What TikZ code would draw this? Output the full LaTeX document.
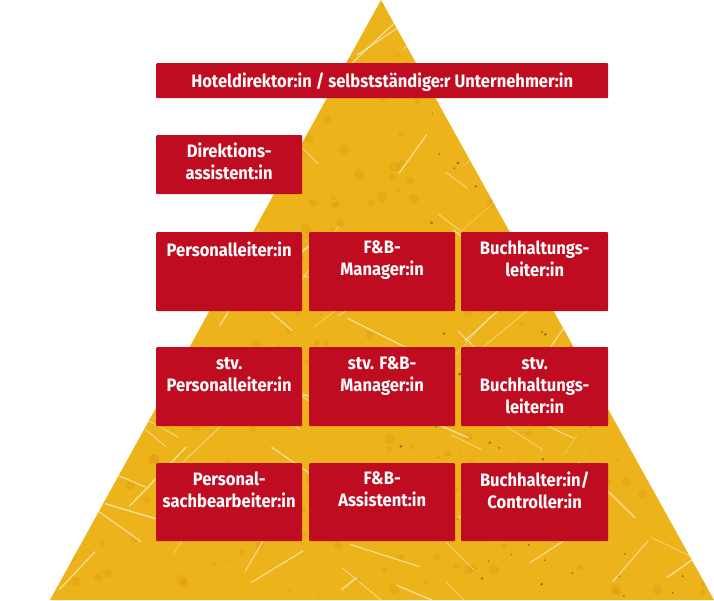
\documentclass[tikz,border=0pt]{standalone}
\usepackage{fontspec}
\setmainfont{Fira Sans}[FakeStretch=0.92]
\usetikzlibrary{positioning}

\definecolor{boxred}{RGB}{192,12,32}
\definecolor{pyryellow}{RGB}{236,180,26}
\definecolor{pyrorange}{RGB}{212,138,8}
\definecolor{pyrcream}{RGB}{250,238,200}

\tikzset{
  rolebox/.style={fill=boxred, rounded corners=1pt, inner sep=0pt,
                  minimum width=#1, anchor=north west},
  roletext/.style={text=white, font=\bfseries\fontsize{18}{22}\selectfont,
                   align=center, inner sep=0pt, execute at begin node=\strut},
  crack/.style={draw=pyrcream, line cap=round, opacity=0.75},
}

\begin{document}
\begin{tikzpicture}[x=1pt,y=-1pt]
  \useasboundingbox (0,0) rectangle (714,600);

  % pyramid
  \coordinate (apex) at (381,0);
  \coordinate (baseL) at (50,600);
  \coordinate (baseR) at (714,600);
  \fill[pyryellow] (apex) -- (baseR) -- (baseL) -- cycle;
  \begin{scope}
    \clip (apex) -- (baseR) -- (baseL) -- cycle;
    \pgfmathsetseed{42}
    % mottling
    \foreach \i in {1,...,350} {
      \pgfmathsetmacro{\px}{50+664*rnd}
      \pgfmathsetmacro{\py}{600*rnd}
      \fill[pyrorange, opacity=0.22] (\px,\py) circle (1.5+4*rnd);
    }
    % cracks
    \foreach \i in {1,...,110} {
      \pgfmathsetmacro{\px}{50+664*rnd}
      \pgfmathsetmacro{\py}{600*rnd}
      \pgfmathsetmacro{\ang}{rnd<0.6 ? -30-30*rnd : 15+30*rnd}
      \pgfmathsetmacro{\len}{15+70*rnd}
      \draw[crack, line width=0.3+1.1*rnd] (\px,\py) -- ++(\ang:\len);
    }
    % specks
    \foreach \i in {1,...,120} {
      \pgfmathsetmacro{\px}{400+310*rnd}
      \pgfmathsetmacro{\py}{100+500*rnd}
      \fill[black!75, opacity=0.55] (\px,\py) circle (0.5+1.1*rnd);
    }
  \end{scope}

  % row 1
  \node[rolebox=452pt, minimum height=35pt] (hd) at (156,63) {};
  \node[roletext, below=8.6pt of hd.north] {Hoteldirektor:in / selbstständige:r Unternehmer:in};

  % row 2
  \node[rolebox=146pt, minimum height=59pt] (da) at (156,135) {};
  \node[roletext, below=8pt of da.north] {Direktions-\\assistent:in};

  % row 3
  \node[rolebox=146pt, minimum height=79pt] (pl) at (156,232) {};
  \node[rolebox=146pt, minimum height=79pt] (fb) at (309,232) {};
  \node[rolebox=147pt, minimum height=79pt] (bl) at (461,232) {};
  \node[roletext, below=8.5pt of pl.north] {Personalleiter:in};
  \node[roletext, below=8.5pt of fb.north] {F\&B-\\Manager:in};
  \node[roletext, below=8.5pt of bl.north] {Buchhaltungs-\\leiter:in};

  % row 4
  \node[rolebox=146pt, minimum height=79pt] (spl) at (156,347) {};
  \node[rolebox=146pt, minimum height=79pt] (sfb) at (309,347) {};
  \node[rolebox=147pt, minimum height=79pt] (sbl) at (461,347) {};
  \node[roletext, below=10pt of spl.north] {stv.\\Personalleiter:in};
  \node[roletext, below=10pt of sfb.north] {stv. F\&B-\\Manager:in};
  \node[roletext, below=10pt of sbl.north] {stv.\\Buchhaltungs-\\leiter:in};

  % row 5
  \node[rolebox=146pt, minimum height=78pt] (ps) at (156,463) {};
  \node[rolebox=146pt, minimum height=78pt] (fa) at (309,463) {};
  \node[rolebox=147pt, minimum height=78pt] (bc) at (461,463) {};
  \node[roletext, below=8.5pt of ps.north] {Personal-\\sachbearbeiter:in};
  \node[roletext, below=8.5pt of fa.north] {F\&B-\\Assistent:in};
  \node[roletext, below=8.5pt of bc.north] {Buchhalter:in/\\Controller:in};
\end{tikzpicture}
\end{document}
